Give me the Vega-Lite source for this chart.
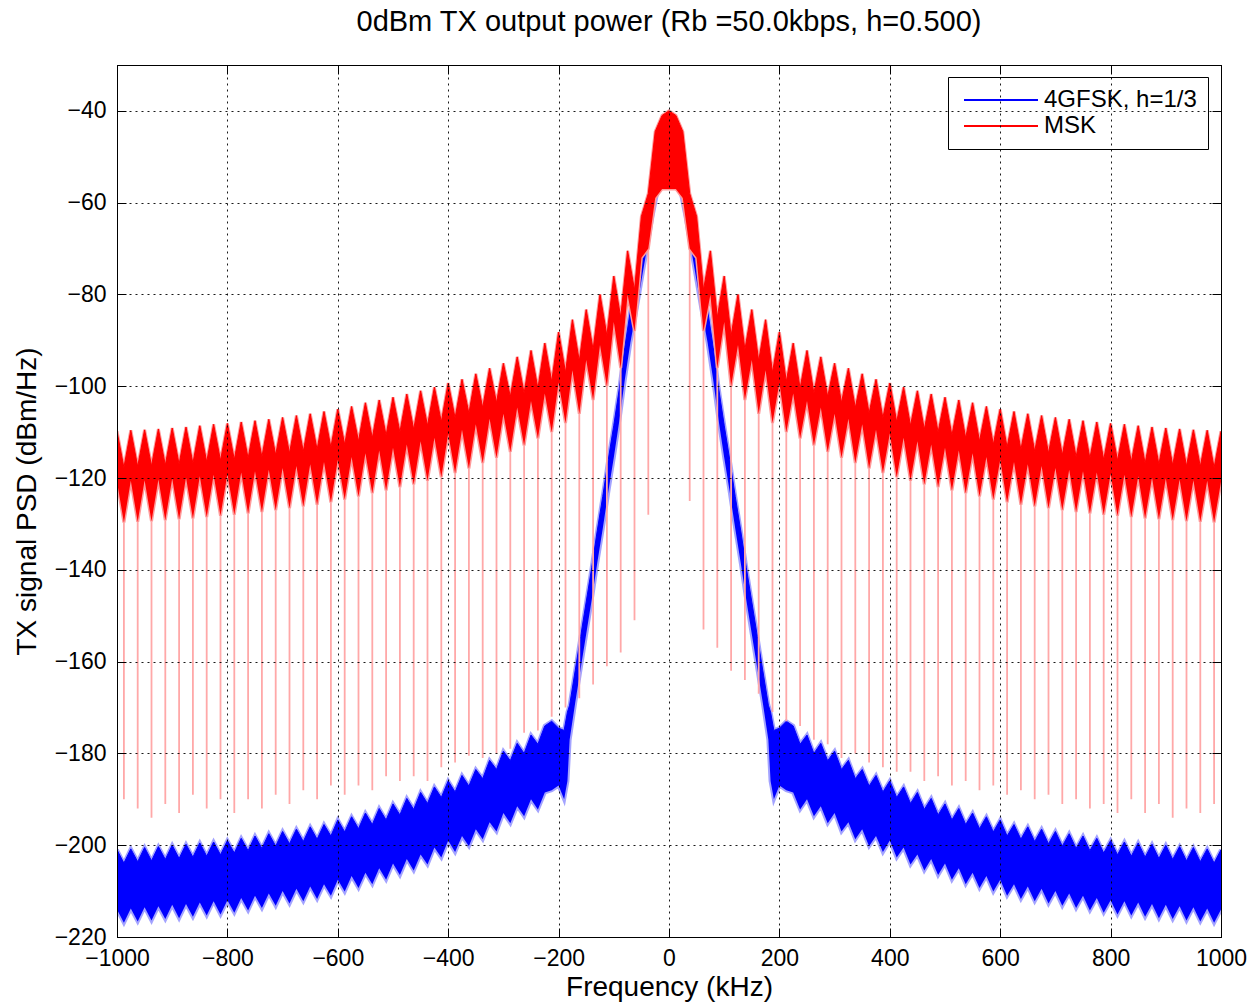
{
"$schema": "https://vega.github.io/schema/vega-lite/v6.json",
"width": 1104,
"height": 872,
"autosize": {"type": "none"},
"padding": {"left": 117, "top": 65, "right": 32, "bottom": 69},
"background": "white",
"title": {"text": "0dBm TX output power (Rb =50.0kbps, h=0.500)", "fontSize": 29, "font": "Liberation Sans", "fontWeight": "normal", "color": "black", "offset": 28, "anchor": "middle"},
"config": {"view": {"stroke": "black", "strokeWidth": 1}, "font": "Liberation Sans"},
"datasets": {
"msk": [
{"f":-1000,"t":-109.8,"b":-120.8},
{"f":-987.5,"t":-117.7,"b":-129.7,"s":-190},
{"f":-975,"t":-109.6,"b":-120.6},
{"f":-962.5,"t":-117.5,"b":-129.5,"s":-192},
{"f":-950,"t":-109.5,"b":-120.5},
{"f":-937.5,"t":-117.4,"b":-129.4,"s":-194},
{"f":-925,"t":-109.3,"b":-120.3},
{"f":-912.5,"t":-117.2,"b":-129.2,"s":-191},
{"f":-900,"t":-109.1,"b":-120.1},
{"f":-887.5,"t":-117,"b":-129,"s":-193},
{"f":-875,"t":-108.9,"b":-119.9},
{"f":-862.5,"t":-116.8,"b":-128.8,"s":-189},
{"f":-850,"t":-108.6,"b":-119.6},
{"f":-837.5,"t":-116.5,"b":-128.5,"s":-192},
{"f":-825,"t":-108.3,"b":-119.3},
{"f":-812.5,"t":-116.2,"b":-128.2,"s":-190},
{"f":-800,"t":-108.1,"b":-119.1},
{"f":-787.5,"t":-116,"b":-128,"s":-193},
{"f":-775,"t":-107.8,"b":-118.8},
{"f":-762.5,"t":-115.7,"b":-127.7,"s":-190},
{"f":-750,"t":-107.5,"b":-118.5},
{"f":-737.5,"t":-115.4,"b":-127.4,"s":-192},
{"f":-725,"t":-107.2,"b":-118.2},
{"f":-712.5,"t":-115,"b":-127,"s":-189},
{"f":-700,"t":-106.8,"b":-117.8},
{"f":-687.5,"t":-114.6,"b":-126.6,"s":-191},
{"f":-675,"t":-106.4,"b":-117.4},
{"f":-662.5,"t":-114.2,"b":-126.2,"s":-188},
{"f":-650,"t":-106,"b":-117},
{"f":-637.5,"t":-113.8,"b":-125.8,"s":-190},
{"f":-625,"t":-105.5,"b":-116.5},
{"f":-612.5,"t":-113.3,"b":-125.3,"s":-187},
{"f":-600,"t":-105,"b":-116},
{"f":-587.5,"t":-112.7,"b":-124.7,"s":-189},
{"f":-575,"t":-104.4,"b":-115.4},
{"f":-562.5,"t":-112,"b":-124,"s":-187},
{"f":-550,"t":-103.6,"b":-114.6},
{"f":-537.5,"t":-111.3,"b":-123.3,"s":-188},
{"f":-525,"t":-103,"b":-114},
{"f":-512.5,"t":-110.7,"b":-122.7,"s":-185},
{"f":-500,"t":-102.4,"b":-113.4},
{"f":-487.5,"t":-110,"b":-122,"s":-186},
{"f":-475,"t":-101.7,"b":-112.7},
{"f":-462.5,"t":-109.4,"b":-121.4,"s":-185},
{"f":-450,"t":-101,"b":-112},
{"f":-437.5,"t":-108.6,"b":-120.6,"s":-186},
{"f":-425,"t":-100.2,"b":-111.2},
{"f":-412.5,"t":-107.8,"b":-119.8,"s":-183},
{"f":-400,"t":-99.3,"b":-110.3},
{"f":-387.5,"t":-106.9,"b":-118.9,"s":-182},
{"f":-375,"t":-98.5,"b":-109.5},
{"f":-362.5,"t":-105.9,"b":-117.9,"s":-180.5},
{"f":-350,"t":-97.3,"b":-108.3},
{"f":-337.5,"t":-104.7,"b":-116.7,"s":-181},
{"f":-325,"t":-96.1,"b":-107.1},
{"f":-312.5,"t":-103.6,"b":-115.6,"s":-180},
{"f":-300,"t":-95,"b":-106},
{"f":-287.5,"t":-102.3,"b":-114.3,"s":-179},
{"f":-275,"t":-93.6,"b":-104.6},
{"f":-262.5,"t":-101.5,"b":-112.9,"s":-175.5},
{"f":-250,"t":-92.2,"b":-103.2},
{"f":-237.5,"t":-100.5,"b":-111.4,"s":-175},
{"f":-225,"t":-90.6,"b":-101.6},
{"f":-212.5,"t":-99,"b":-110,"s":-172},
{"f":-200,"t":-88.2,"b":-99.2},
{"f":-187.5,"t":-97,"b":-108,"s":-170},
{"f":-175,"t":-85.5,"b":-96.5},
{"f":-162.5,"t":-94.5,"b":-106,"s":-168},
{"f":-150,"t":-83.3,"b":-94.3},
{"f":-137.5,"t":-92,"b":-103,"s":-165},
{"f":-125,"t":-80,"b":-91},
{"f":-112.5,"t":-89,"b":-100,"s":-161},
{"f":-100,"t":-76,"b":-86},
{"f":-87.5,"t":-85,"b":-96,"s":-158},
{"f":-75,"t":-70.5,"b":-80},
{"f":-62.5,"t":-79,"b":-88,"s":-151},
{"f":-50,"t":-63,"b":-72},
{"f":-37.5,"t":-58,"b":-70,"s":-128},
{"f":-25,"t":-44.5,"b":-59},
{"f":-12.5,"t":-41,"b":-57},
{"f":0,"t":-40,"b":-57},
{"f":12.5,"t":-41,"b":-57},
{"f":25,"t":-44.5,"b":-59},
{"f":37.5,"t":-58,"b":-70,"s":-125},
{"f":50,"t":-63,"b":-72},
{"f":62.5,"t":-79,"b":-88,"s":-153},
{"f":75,"t":-70.5,"b":-80},
{"f":87.5,"t":-85,"b":-96,"s":-157},
{"f":100,"t":-76,"b":-86},
{"f":112.5,"t":-89,"b":-100,"s":-162},
{"f":125,"t":-80,"b":-91},
{"f":137.5,"t":-92,"b":-103,"s":-164},
{"f":150,"t":-83.3,"b":-94.3},
{"f":162.5,"t":-94.5,"b":-106,"s":-167},
{"f":175,"t":-85.5,"b":-96.5},
{"f":187.5,"t":-97,"b":-108,"s":-171},
{"f":200,"t":-88.2,"b":-99.2},
{"f":212.5,"t":-99,"b":-110,"s":-173},
{"f":225,"t":-90.6,"b":-101.6},
{"f":237.5,"t":-100.5,"b":-111.4,"s":-174},
{"f":250,"t":-92.2,"b":-103.2},
{"f":262.5,"t":-101.5,"b":-112.9,"s":-177},
{"f":275,"t":-93.6,"b":-104.6},
{"f":287.5,"t":-102.3,"b":-114.3,"s":-178},
{"f":300,"t":-95,"b":-106},
{"f":312.5,"t":-103.6,"b":-115.6,"s":-181},
{"f":325,"t":-96.1,"b":-107.1},
{"f":337.5,"t":-104.7,"b":-116.7,"s":-180},
{"f":350,"t":-97.3,"b":-108.3},
{"f":362.5,"t":-105.9,"b":-117.9,"s":-182},
{"f":375,"t":-98.5,"b":-109.5},
{"f":387.5,"t":-106.9,"b":-118.9,"s":-183},
{"f":400,"t":-99.3,"b":-110.3},
{"f":412.5,"t":-107.8,"b":-119.8,"s":-184},
{"f":425,"t":-100.2,"b":-111.2},
{"f":437.5,"t":-108.6,"b":-120.6,"s":-184},
{"f":450,"t":-101,"b":-112},
{"f":462.5,"t":-109.4,"b":-121.4,"s":-186},
{"f":475,"t":-101.7,"b":-112.7},
{"f":487.5,"t":-110,"b":-122,"s":-185},
{"f":500,"t":-102.4,"b":-113.4},
{"f":512.5,"t":-110.7,"b":-122.7,"s":-187},
{"f":525,"t":-103,"b":-114},
{"f":537.5,"t":-111.3,"b":-123.3,"s":-186},
{"f":550,"t":-103.6,"b":-114.6},
{"f":562.5,"t":-112,"b":-124,"s":-188},
{"f":575,"t":-104.4,"b":-115.4},
{"f":587.5,"t":-112.7,"b":-124.7,"s":-187},
{"f":600,"t":-105,"b":-116},
{"f":612.5,"t":-113.3,"b":-125.3,"s":-189},
{"f":625,"t":-105.5,"b":-116.5},
{"f":637.5,"t":-113.8,"b":-125.8,"s":-188},
{"f":650,"t":-106,"b":-117},
{"f":662.5,"t":-114.2,"b":-126.2,"s":-190},
{"f":675,"t":-106.4,"b":-117.4},
{"f":687.5,"t":-114.6,"b":-126.6,"s":-189},
{"f":700,"t":-106.8,"b":-117.8},
{"f":712.5,"t":-115,"b":-127,"s":-191},
{"f":725,"t":-107.2,"b":-118.2},
{"f":737.5,"t":-115.4,"b":-127.4,"s":-190},
{"f":750,"t":-107.5,"b":-118.5},
{"f":762.5,"t":-115.7,"b":-127.7,"s":-192},
{"f":775,"t":-107.8,"b":-118.8},
{"f":787.5,"t":-116,"b":-128,"s":-191},
{"f":800,"t":-108.1,"b":-119.1},
{"f":812.5,"t":-116.2,"b":-128.2,"s":-193},
{"f":825,"t":-108.3,"b":-119.3},
{"f":837.5,"t":-116.5,"b":-128.5,"s":-190},
{"f":850,"t":-108.6,"b":-119.6},
{"f":862.5,"t":-116.8,"b":-128.8,"s":-193},
{"f":875,"t":-108.9,"b":-119.9},
{"f":887.5,"t":-117,"b":-129,"s":-191},
{"f":900,"t":-109.1,"b":-120.1},
{"f":912.5,"t":-117.2,"b":-129.2,"s":-194},
{"f":925,"t":-109.3,"b":-120.3},
{"f":937.5,"t":-117.4,"b":-129.4,"s":-192},
{"f":950,"t":-109.5,"b":-120.5},
{"f":962.5,"t":-117.5,"b":-129.5,"s":-193},
{"f":975,"t":-109.6,"b":-120.6},
{"f":987.5,"t":-117.7,"b":-129.7,"s":-191},
{"f":1000,"t":-109.8,"b":-120.8}
],
"gfsk": [
{"f":-1000,"t":-201,"b":-214},
{"f":-987.5,"t":-203.9,"b":-216.9},
{"f":-975,"t":-200.8,"b":-213.8},
{"f":-962.5,"t":-203.6,"b":-216.6},
{"f":-950,"t":-200.5,"b":-213.5},
{"f":-937.5,"t":-203.4,"b":-216.4},
{"f":-925,"t":-200.3,"b":-213.3},
{"f":-912.5,"t":-203.1,"b":-216.1},
{"f":-900,"t":-200,"b":-213},
{"f":-887.5,"t":-202.9,"b":-215.9},
{"f":-875,"t":-199.8,"b":-212.8},
{"f":-862.5,"t":-202.6,"b":-215.6},
{"f":-850,"t":-199.5,"b":-212.5},
{"f":-837.5,"t":-202.4,"b":-215.3},
{"f":-825,"t":-199.3,"b":-212.2},
{"f":-812.5,"t":-202.1,"b":-215.1},
{"f":-800,"t":-199,"b":-212},
{"f":-787.5,"t":-201.7,"b":-214.7},
{"f":-775,"t":-198.5,"b":-211.5},
{"f":-762.5,"t":-201.2,"b":-214.2},
{"f":-750,"t":-198,"b":-211},
{"f":-737.5,"t":-200.7,"b":-213.7},
{"f":-725,"t":-197.5,"b":-210.5},
{"f":-712.5,"t":-200.2,"b":-213.2},
{"f":-700,"t":-197,"b":-210},
{"f":-687.5,"t":-199.7,"b":-212.7},
{"f":-675,"t":-196.5,"b":-209.5},
{"f":-662.5,"t":-199.2,"b":-212.2},
{"f":-650,"t":-196,"b":-209},
{"f":-637.5,"t":-198.7,"b":-211.7},
{"f":-625,"t":-195.5,"b":-208.5},
{"f":-612.5,"t":-198,"b":-211},
{"f":-600,"t":-194.5,"b":-207.5},
{"f":-587.5,"t":-197.1,"b":-210.1},
{"f":-575,"t":-193.8,"b":-206.7},
{"f":-562.5,"t":-196.4,"b":-209.3},
{"f":-550,"t":-193,"b":-206},
{"f":-537.5,"t":-195.5,"b":-208.5},
{"f":-525,"t":-192,"b":-205},
{"f":-512.5,"t":-194.5,"b":-207.5},
{"f":-500,"t":-191,"b":-204},
{"f":-487.5,"t":-193.4,"b":-206.5},
{"f":-475,"t":-189.8,"b":-203},
{"f":-462.5,"t":-192.2,"b":-205.5},
{"f":-450,"t":-188.5,"b":-202},
{"f":-437.5,"t":-190.9,"b":-204.2},
{"f":-425,"t":-187.3,"b":-200.5},
{"f":-412.5,"t":-189.6,"b":-202.7},
{"f":-400,"t":-186,"b":-199},
{"f":-387.5,"t":-188.4,"b":-201.5},
{"f":-375,"t":-184.8,"b":-198},
{"f":-362.5,"t":-187.1,"b":-200.2},
{"f":-350,"t":-183.5,"b":-196.5},
{"f":-337.5,"t":-185.5,"b":-198.7},
{"f":-325,"t":-181.5,"b":-195},
{"f":-312.5,"t":-183.5,"b":-197},
{"f":-300,"t":-179.5,"b":-193},
{"f":-287.5,"t":-181.6,"b":-195.2},
{"f":-275,"t":-177.8,"b":-191.5},
{"f":-262.5,"t":-180,"b":-193.7},
{"f":-250,"t":-176,"b":-190},
{"f":-237.5,"t":-178,"b":-192.2},
{"f":-225,"t":-174,"b":-188.5},
{"f":-212.5,"t":-173,"b":-188},
{"f":-200,"t":-174.5,"b":-187},
{"f":-190,"t":-175,"b":-190},
{"f":-184,"t":-171,"b":-186},
{"f":-180,"t":-169.5,"b":-177},
{"f":-170,"t":-162,"b":-169},
{"f":-160,"t":-154.5,"b":-161.5},
{"f":-150,"t":-147,"b":-154},
{"f":-140,"t":-139.5,"b":-146.5},
{"f":-130,"t":-131.5,"b":-138.5},
{"f":-120,"t":-124,"b":-131},
{"f":-110,"t":-116,"b":-123},
{"f":-100,"t":-108.5,"b":-115.5},
{"f":-90,"t":-100.5,"b":-107.5},
{"f":-80,"t":-91.5,"b":-98.5},
{"f":-70,"t":-83.5,"b":-90.5},
{"f":-60,"t":-77,"b":-84},
{"f":-50,"t":-70.5,"b":-77},
{"f":-40,"t":-63.5,"b":-70},
{"f":-30,"t":-56,"b":-63},
{"f":-20,"t":-48,"b":-57},
{"f":-10,"t":-42.5,"b":-54},
{"f":0,"t":-40.5,"b":-56},
{"f":10,"t":-42.5,"b":-54},
{"f":20,"t":-48,"b":-57},
{"f":30,"t":-56,"b":-63},
{"f":40,"t":-63.5,"b":-70},
{"f":50,"t":-70.5,"b":-77},
{"f":60,"t":-77,"b":-84},
{"f":70,"t":-83.5,"b":-90.5},
{"f":80,"t":-91.5,"b":-98.5},
{"f":90,"t":-100.5,"b":-107.5},
{"f":100,"t":-108.5,"b":-115.5},
{"f":110,"t":-116,"b":-123},
{"f":120,"t":-124,"b":-131},
{"f":130,"t":-131.5,"b":-138.5},
{"f":140,"t":-139.5,"b":-146.5},
{"f":150,"t":-147,"b":-154},
{"f":160,"t":-154.5,"b":-161.5},
{"f":170,"t":-162,"b":-169},
{"f":180,"t":-169.5,"b":-177},
{"f":184,"t":-171,"b":-186},
{"f":190,"t":-175,"b":-190},
{"f":200,"t":-174.5,"b":-187},
{"f":212.5,"t":-173,"b":-188},
{"f":225,"t":-174,"b":-188.5},
{"f":237.5,"t":-178,"b":-192.2},
{"f":250,"t":-176,"b":-190},
{"f":262.5,"t":-180,"b":-193.7},
{"f":275,"t":-177.8,"b":-191.5},
{"f":287.5,"t":-181.6,"b":-195.2},
{"f":300,"t":-179.5,"b":-193},
{"f":312.5,"t":-183.5,"b":-197},
{"f":325,"t":-181.5,"b":-195},
{"f":337.5,"t":-185.5,"b":-198.7},
{"f":350,"t":-183.5,"b":-196.5},
{"f":362.5,"t":-187.1,"b":-200.2},
{"f":375,"t":-184.8,"b":-198},
{"f":387.5,"t":-188.4,"b":-201.5},
{"f":400,"t":-186,"b":-199},
{"f":412.5,"t":-189.6,"b":-202.7},
{"f":425,"t":-187.3,"b":-200.5},
{"f":437.5,"t":-190.9,"b":-204.2},
{"f":450,"t":-188.5,"b":-202},
{"f":462.5,"t":-192.2,"b":-205.5},
{"f":475,"t":-189.8,"b":-203},
{"f":487.5,"t":-193.4,"b":-206.5},
{"f":500,"t":-191,"b":-204},
{"f":512.5,"t":-194.5,"b":-207.5},
{"f":525,"t":-192,"b":-205},
{"f":537.5,"t":-195.5,"b":-208.5},
{"f":550,"t":-193,"b":-206},
{"f":562.5,"t":-196.4,"b":-209.3},
{"f":575,"t":-193.8,"b":-206.7},
{"f":587.5,"t":-197.1,"b":-210.1},
{"f":600,"t":-194.5,"b":-207.5},
{"f":612.5,"t":-198,"b":-211},
{"f":625,"t":-195.5,"b":-208.5},
{"f":637.5,"t":-198.7,"b":-211.7},
{"f":650,"t":-196,"b":-209},
{"f":662.5,"t":-199.2,"b":-212.2},
{"f":675,"t":-196.5,"b":-209.5},
{"f":687.5,"t":-199.7,"b":-212.7},
{"f":700,"t":-197,"b":-210},
{"f":712.5,"t":-200.2,"b":-213.2},
{"f":725,"t":-197.5,"b":-210.5},
{"f":737.5,"t":-200.7,"b":-213.7},
{"f":750,"t":-198,"b":-211},
{"f":762.5,"t":-201.2,"b":-214.2},
{"f":775,"t":-198.5,"b":-211.5},
{"f":787.5,"t":-201.7,"b":-214.7},
{"f":800,"t":-199,"b":-212},
{"f":812.5,"t":-202.1,"b":-215.1},
{"f":825,"t":-199.3,"b":-212.2},
{"f":837.5,"t":-202.4,"b":-215.3},
{"f":850,"t":-199.5,"b":-212.5},
{"f":862.5,"t":-202.6,"b":-215.6},
{"f":875,"t":-199.8,"b":-212.8},
{"f":887.5,"t":-202.9,"b":-215.9},
{"f":900,"t":-200,"b":-213},
{"f":912.5,"t":-203.1,"b":-216.1},
{"f":925,"t":-200.3,"b":-213.3},
{"f":937.5,"t":-203.4,"b":-216.4},
{"f":950,"t":-200.5,"b":-213.5},
{"f":962.5,"t":-203.6,"b":-216.6},
{"f":975,"t":-200.8,"b":-213.8},
{"f":987.5,"t":-203.9,"b":-216.9},
{"f":1000,"t":-201,"b":-214}
]
},
"layer": [
{
"data": {"name": "gfsk"},
"mark": {"type": "area", "color": "#a3a3ff", "stroke": "#a3a3ff", "strokeWidth": 4, "clip": true},
"encoding": {
"x": {"field": "f", "type": "quantitative", "scale": {"domain": [-1000, 1000], "nice": false},
"axis": {"orient": "bottom", "values": [-1000,-800,-600,-400,-200,0,200,400,600,800,1000], "format": "d", "grid": true, "gridColor": "black", "gridDash": [2,4], "gridWidth": 1, "gridOpacity": 0.9, "tickSize": -9, "tickColor": "black", "domainColor": "black", "labelFontSize": 23, "labelColor": "black", "labelPadding": 19, "labelFlush": false, "labelOverlap": false, "title": "Frequency (kHz)", "titleFontSize": 28, "titleFontWeight": "normal", "titleColor": "black", "titlePadding": 3, "zindex": 1}},
"y": {"field": "t", "type": "quantitative", "scale": {"domain": [-220, -30], "nice": false},
"axis": {"orient": "left", "values": [-220,-200,-180,-160,-140,-120,-100,-80,-60,-40], "format": "d", "grid": true, "gridColor": "black", "gridDash": [2,4], "gridWidth": 1, "gridOpacity": 0.9, "tickSize": -9, "tickColor": "black", "domainColor": "black", "labelFontSize": 23, "labelColor": "black", "labelPadding": 20, "labelFlush": false, "labelOverlap": false, "title": "TX signal PSD (dBm/Hz)", "titleFontSize": 28, "titleFontWeight": "normal", "titleColor": "black", "titlePadding": 13, "zindex": 1}},
"y2": {"field": "b"}
}
},
{
"data": {"name": "gfsk"},
"mark": {"type": "area", "color": "#0000ff", "clip": true},
"encoding": {
"x": {"field": "f", "type": "quantitative", "axis": null},
"y": {"field": "t", "type": "quantitative", "axis": null},
"y2": {"field": "b"}
}
},
{
"data": {"name": "gfsk"},
"mark": {"type": "line", "strokeWidth": 1, "clip": true},
"encoding": {
"x": {"field": "f", "type": "quantitative", "axis": null},
"y": {"field": "t", "type": "quantitative", "axis": null},
"color": {"datum": "4GFSK, h=1/3", "type": "nominal",
"scale": {"domain": ["4GFSK, h=1/3", "MSK"], "range": ["#0000ff", "#ff0000"]},
"legend": {"orient": "none", "legendX": 831, "legendY": 12, "title": null, "padding": 11, "fillColor": "white", "strokeColor": "black", "labelFontSize": 24, "labelColor": "black", "labelFont": "Liberation Sans", "symbolType": "M-5,0H5", "symbolSize": 219, "symbolStrokeWidth": 2, "symbolOffset": 30, "labelOffset": 31, "rowPadding": 2, "labelLimit": 400}}
}
},
{
"data": {"name": "msk"},
"transform": [{"filter": "isValid(datum.s)"}],
"mark": {"type": "rule", "color": "#ffa8a8", "strokeWidth": 1.8, "clip": true},
"encoding": {
"x": {"field": "f", "type": "quantitative", "axis": null},
"y": {"field": "b", "type": "quantitative", "axis": null},
"y2": {"field": "s"}
}
},
{
"data": {"name": "msk"},
"mark": {"type": "area", "color": "#ff9a9a", "stroke": "#ff9a9a", "strokeWidth": 3, "clip": true},
"encoding": {
"x": {"field": "f", "type": "quantitative", "axis": null},
"y": {"field": "t", "type": "quantitative", "axis": null},
"y2": {"field": "b"}
}
},
{
"data": {"name": "msk"},
"mark": {"type": "area", "color": "#ff0000", "clip": true},
"encoding": {
"x": {"field": "f", "type": "quantitative", "axis": null},
"y": {"field": "t", "type": "quantitative", "axis": null},
"y2": {"field": "b"}
}
},
{
"data": {"name": "msk"},
"mark": {"type": "line", "strokeWidth": 1, "clip": true},
"encoding": {
"x": {"field": "f", "type": "quantitative",
"axis": {"orient": "top", "values": [-1000,-800,-600,-400,-200,0,200,400,600,800,1000], "labels": false, "grid": false, "tickSize": -9, "tickColor": "black", "domainColor": "black", "title": null, "zindex": 1}},
"y": {"field": "t", "type": "quantitative",
"axis": {"orient": "right", "values": [-220,-200,-180,-160,-140,-120,-100,-80,-60,-40], "labels": false, "grid": false, "tickSize": -9, "tickColor": "black", "domainColor": "black", "title": null, "zindex": 1}},
"color": {"datum": "MSK", "type": "nominal"}
}
}
],
"resolve": {"axis": {"x": "independent", "y": "independent"}}
}
